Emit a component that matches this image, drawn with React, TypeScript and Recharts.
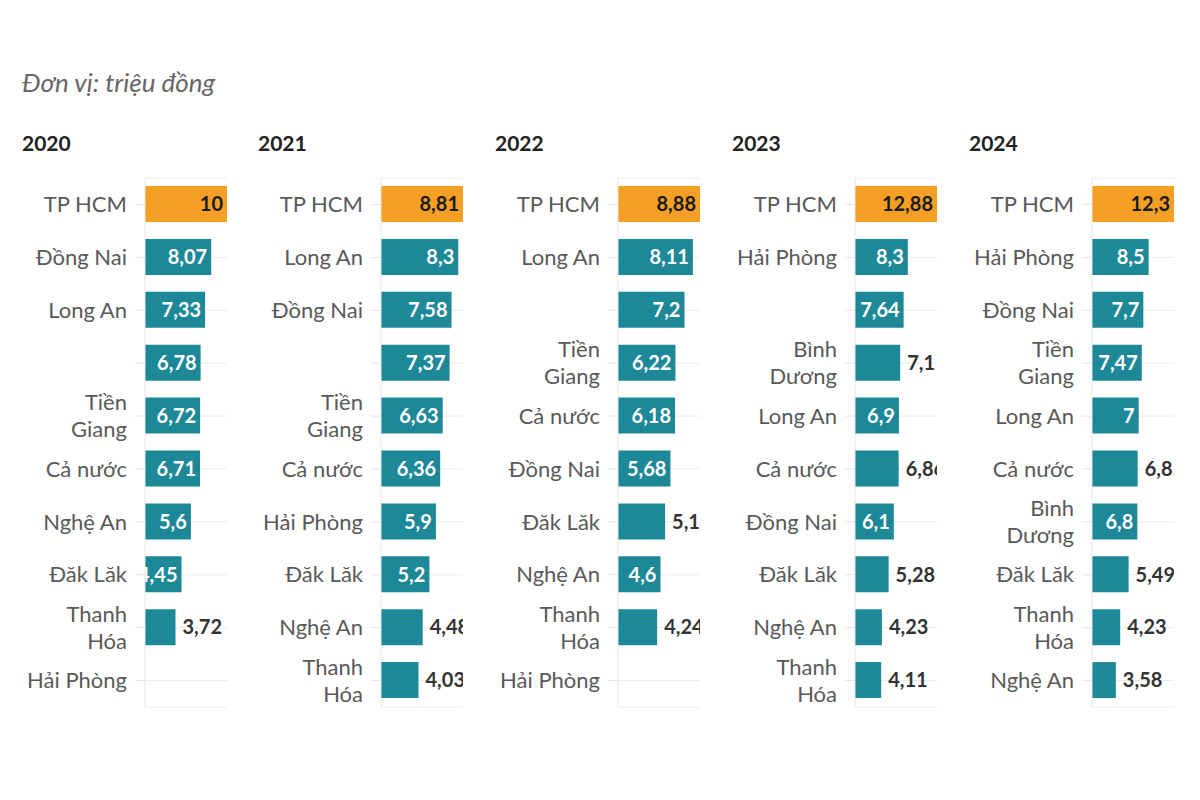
import { BarChart, Bar, XAxis, YAxis, CartesianGrid, Cell, LabelList } from "recharts";

const YEARS = ["2020", "2021", "2022", "2023", "2024"];

const CATS_2020 = ["TP HCM", "Đồng Nai", "Long An", "", "Tiền\nGiang", "Cả nước", "Nghệ An", "Đăk Lăk", "Thanh\nHóa", "Hải Phòng"];
const VALUES_2020 = [10, 8.07, 7.33, 6.78, 6.72, 6.71, 5.6, 4.45, 3.72, null];

const CATS_2021 = ["TP HCM", "Long An", "Đồng Nai", "", "Tiền\nGiang", "Cả nước", "Hải Phòng", "Đăk Lăk", "Nghệ An", "Thanh\nHóa"];
const VALUES_2021 = [8.81, 8.3, 7.58, 7.37, 6.63, 6.36, 5.9, 5.2, 4.48, 4.03];

const CATS_2022 = ["TP HCM", "Long An", "", "Tiền\nGiang", "Cả nước", "Đồng Nai", "Đăk Lăk", "Nghệ An", "Thanh\nHóa", "Hải Phòng"];
const VALUES_2022 = [8.88, 8.11, 7.2, 6.22, 6.18, 5.68, 5.1, 4.6, 4.24, null];

const CATS_2023 = ["TP HCM", "Hải Phòng", "", "Bình\nDương", "Long An", "Cả nước", "Đồng Nai", "Đăk Lăk", "Nghệ An", "Thanh\nHóa"];
const VALUES_2023 = [12.88, 8.3, 7.64, 7.1, 6.9, 6.86, 6.1, 5.28, 4.23, 4.11];

const CATS_2024 = ["TP HCM", "Hải Phòng", "Đồng Nai", "Tiền\nGiang", "Long An", "Cả nước", "Bình\nDương", "Đăk Lăk", "Thanh\nHóa", "Nghệ An"];
const VALUES_2024 = [12.3, 8.5, 7.7, 7.47, 7, 6.85, 6.8, 5.49, 4.23, 3.58];

// which value labels sit to the right of the bar instead of inside it
const OUTSIDE_2020 = ["Thanh\nHóa"];
const OUTSIDE_2021 = ["Nghệ An", "Thanh\nHóa"];
const OUTSIDE_2022 = ["Đăk Lăk", "Thanh\nHóa"];
const OUTSIDE_2023 = ["Bình\nDương", "Cả nước", "Đăk Lăk", "Nghệ An", "Thanh\nHóa"];
const OUTSIDE_2024 = ["Cả nước", "Đăk Lăk", "Thanh\nHóa", "Nghệ An"];

const HIGHLIGHT = "TP HCM";

const PANELS = [
  { cats: CATS_2020, values: VALUES_2020, outside: OUTSIDE_2020 },
  { cats: CATS_2021, values: VALUES_2021, outside: OUTSIDE_2021 },
  { cats: CATS_2022, values: VALUES_2022, outside: OUTSIDE_2022 },
  { cats: CATS_2023, values: VALUES_2023, outside: OUTSIDE_2023 },
  { cats: CATS_2024, values: VALUES_2024, outside: OUTSIDE_2024 },
];

const FONT = "Lato, 'Noto Sans', sans-serif";
const ORANGE = "#f5a024";
const TEAL = "#1d8898";

const fmt = (v: number) => String(v).replace(".", ",");

function CatTick(props: any) {
  const { x, y, payload } = props;
  const lines = String(payload.value).split("\n");
  const lh = 27;
  const start = -((lines.length - 1) * lh) / 2;
  return (
    <text x={x} y={y} textAnchor="end" fill="#595959" fontSize={22} fontFamily={FONT}>
      {lines.map((l, i) => (
        <tspan key={i} x={x} y={y + start + i * lh} dy="0.35em">
          {l}
        </tspan>
      ))}
    </text>
  );
}

function Panel({ idx }: { idx: number }) {
  const p = PANELS[idx];
  const data = p.cats.map((name, i) => ({ name, value: p.values[i] }));
  const max = Math.max(...(p.values.filter((v) => v != null) as number[]));

  const renderLabel = (props: any) => {
    const { x, y, width, height, value, index } = props;
    if (value == null) return null;
    const name = p.cats[index];
    const plotRight = x + (width * max) / value;
    const out = p.outside.includes(name);
    const hl = name === HIGHLIGHT;
    const id = `clip-${idx}-${index}`;
    return (
      <g>
        <defs>
          <clipPath id={id}>
            <rect x={x} y={y - 5} width={plotRight - x} height={height + 10} />
          </clipPath>
        </defs>
        <text
          clipPath={`url(#${id})`}
          x={out ? x + width + 7 : x + width - 4}
          y={y + height / 2}
          dy="0.36em"
          textAnchor={out ? "start" : "end"}
          fontSize={20}
          fontWeight={700}
          fontFamily={FONT}
          fill={out ? "#333" : hl ? "#1a1a1a" : "#fff"}
        >
          {fmt(value)}
        </text>
      </g>
    );
  };

  return (
    <BarChart
      width={206}
      height={549}
      data={data}
      layout="vertical"
      margin={{ top: 10, right: 1, bottom: 10, left: 0 }}
      barSize={36}
    >
      <CartesianGrid horizontal vertical={false} stroke="#ececec" />
      <XAxis type="number" domain={[0, "dataMax"]} hide />
      <YAxis
        type="category"
        dataKey="name"
        width={123}
        tick={<CatTick />}
        tickLine={{ stroke: "#e6e6e6" }}
        tickSize={10}
        tickMargin={8}
        axisLine={{ stroke: "#e6e6e6" }}
        interval={0}
      />
      <Bar dataKey="value" isAnimationActive={false}>
        {data.map((d, i) => (
          <Cell key={i} fill={d.name === HIGHLIGHT ? ORANGE : TEAL} />
        ))}
        <LabelList dataKey="value" content={renderLabel} />
      </Bar>
    </BarChart>
  );
}

export default function App() {
  const lefts = [22, 258, 495, 732, 969];
  return (
    <div style={{ position: "absolute", left: 0, top: 0, width: 1200, height: 800, background: "#fff", fontFamily: FONT }}>
      <div style={{ position: "absolute", left: 22, top: 66, fontSize: 26, fontStyle: "italic", color: "#666" }}>
        Đơn vị: triệu đồng
      </div>
      {YEARS.map((yr, i) => (
        <div key={yr}>
          <div style={{ position: "absolute", left: lefts[i], top: 130, fontSize: 21, fontWeight: 700, color: "#222" }}>
            {yr}
          </div>
          <div style={{ position: "absolute", left: lefts[i], top: 168 }}>
            <Panel idx={i} />
          </div>
        </div>
      ))}
    </div>
  );
}
